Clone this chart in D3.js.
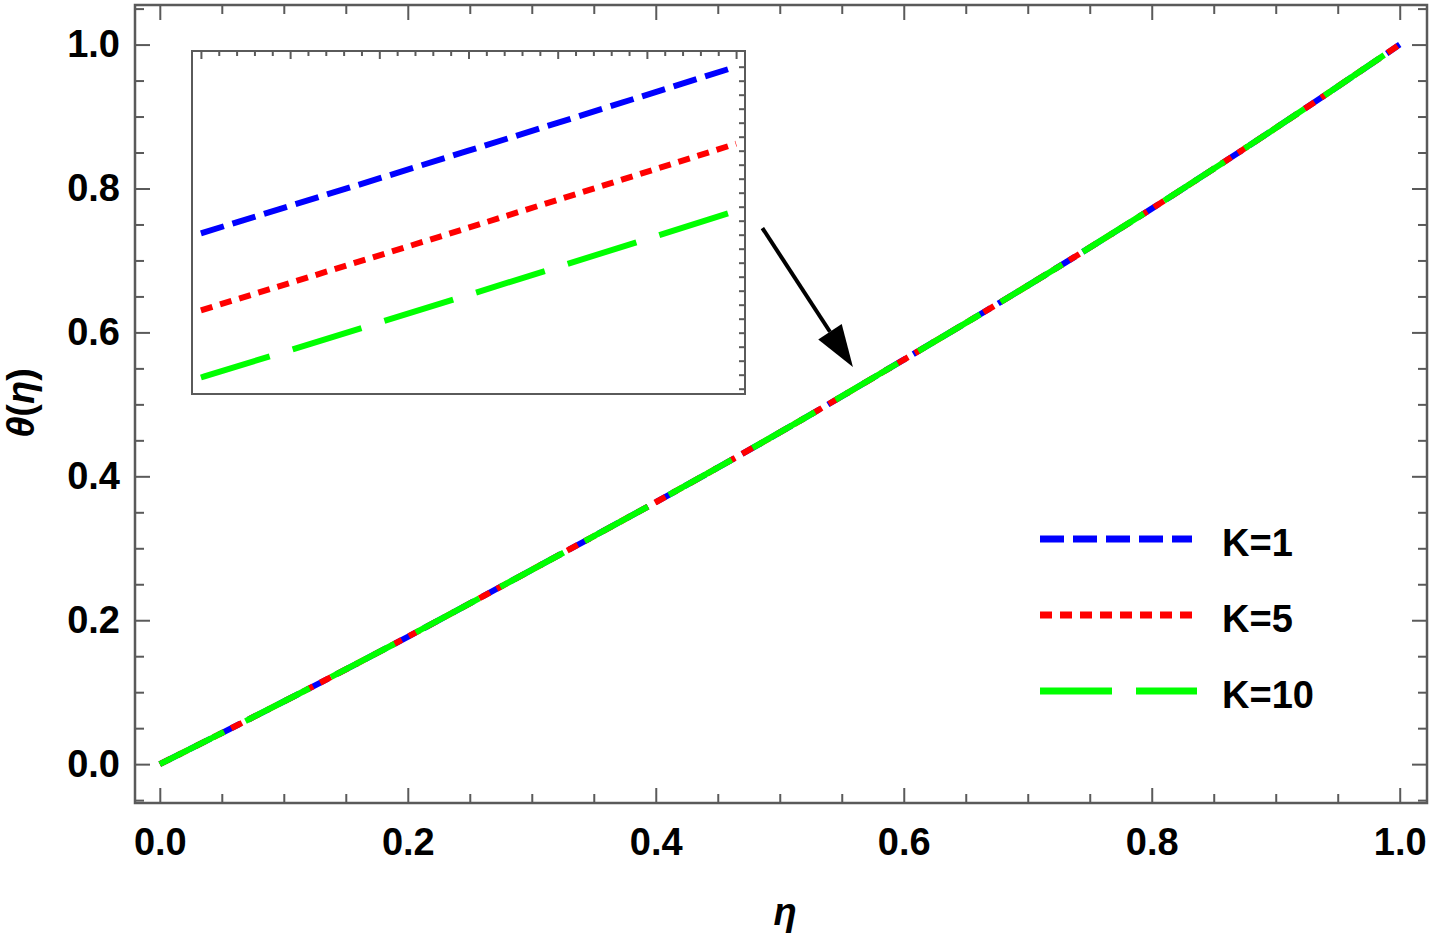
<!DOCTYPE html>
<html>
<head>
<meta charset="utf-8">
<script src="https://cdn.jsdelivr.net/npm/d3@7"></script>
<style>
  body { margin: 0; background: #fff; }
  svg { display: block; font-family: "Liberation Sans", Arial, sans-serif; }
</style>
</head>
<body>
<div id="chart"></div>
<script>
// Main curve data (eta vs theta), curves overlap for all K
const eta = [0, 0.1, 0.2, 0.3, 0.4, 0.5, 0.6, 0.7, 0.8, 0.9, 1.0];
const thetaK1 = [0, 0.087, 0.177, 0.270, 0.364, 0.461, 0.562, 0.665, 0.772, 0.884, 1.0];
const thetaK5 = [0, 0.087, 0.177, 0.270, 0.364, 0.461, 0.562, 0.665, 0.772, 0.884, 1.0];
const thetaK10 = [0, 0.087, 0.177, 0.270, 0.364, 0.461, 0.562, 0.665, 0.772, 0.884, 1.0];

// Inset (zoomed) data
const etaInset = [0.549, 0.555, 0.561];
const insetK1 = [0.5141, 0.5200, 0.5260];
const insetK5 = [0.5086, 0.5145, 0.5205];
const insetK10 = [0.5038, 0.5097, 0.5157];

const labels = ["K=1", "K=5", "K=10"];
const colors = ["#0000ff", "#ff0000", "#00ff00"];
const dashes = ["24,9", "12,8", "72,24"];

const xTicks = [0, 0.2, 0.4, 0.6, 0.8, 1.0];
const yTicks = [0, 0.2, 0.4, 0.6, 0.8, 1.0];

const W = 1433, H = 940;
const frame = {left: 135, right: 1427, top: 5, bottom: 803};
const font = "bold 38px 'Liberation Sans', Arial, sans-serif";
const frameColor = "#5a5a5a";

const svg = d3.select("#chart").append("svg")
    .attr("width", W).attr("height", H);

const x = d3.scaleLinear().domain([-0.02, 1.022]).range([frame.left, frame.right]);
const y = d3.scaleLinear().domain([-0.054, 1.055]).range([frame.bottom, frame.top]);

const minorX = d3.range(0, 1.0001, 0.05).filter(v => Math.abs(v * 5 - Math.round(v * 5)) > 1e-6);
const minorY = d3.range(-0.05, 1.0501, 0.05).filter(v => Math.abs(v * 5 - Math.round(v * 5)) > 1e-6);

function styleAxis(g) {
    g.select(".domain").remove();
    g.selectAll(".tick line").attr("stroke", frameColor).attr("stroke-width", 2);
    g.selectAll(".tick text").style("font", font).attr("fill", "#000");
}

// Bottom axis
svg.append("g").attr("transform", `translate(0,${frame.bottom})`)
    .call(d3.axisBottom(x).tickValues(xTicks).tickSizeInner(-15).tickSizeOuter(0)
        .tickPadding(25).tickFormat(d3.format(".1f")))
    .call(styleAxis);
svg.append("g").attr("transform", `translate(0,${frame.bottom})`)
    .call(d3.axisBottom(x).tickValues(minorX).tickSizeInner(-9).tickSizeOuter(0).tickFormat(""))
    .call(styleAxis);
// Top axis
svg.append("g").attr("transform", `translate(0,${frame.top})`)
    .call(d3.axisTop(x).tickValues(xTicks).tickSizeInner(-15).tickSizeOuter(0).tickFormat(""))
    .call(styleAxis);
svg.append("g").attr("transform", `translate(0,${frame.top})`)
    .call(d3.axisTop(x).tickValues(minorX).tickSizeInner(-9).tickSizeOuter(0).tickFormat(""))
    .call(styleAxis);
// Left axis
svg.append("g").attr("transform", `translate(${frame.left},0)`)
    .call(d3.axisLeft(y).tickValues(yTicks).tickSizeInner(-15).tickSizeOuter(0)
        .tickPadding(15).tickFormat(d3.format(".1f")))
    .call(styleAxis);
svg.append("g").attr("transform", `translate(${frame.left},0)`)
    .call(d3.axisLeft(y).tickValues(minorY).tickSizeInner(-9).tickSizeOuter(0).tickFormat(""))
    .call(styleAxis);
// Right axis
svg.append("g").attr("transform", `translate(${frame.right},0)`)
    .call(d3.axisRight(y).tickValues(yTicks).tickSizeInner(-15).tickSizeOuter(0).tickFormat(""))
    .call(styleAxis);
svg.append("g").attr("transform", `translate(${frame.right},0)`)
    .call(d3.axisRight(y).tickValues(minorY).tickSizeInner(-9).tickSizeOuter(0).tickFormat(""))
    .call(styleAxis);

// Frame
svg.append("rect")
    .attr("x", frame.left).attr("y", frame.top)
    .attr("width", frame.right - frame.left).attr("height", frame.bottom - frame.top)
    .attr("fill", "none").attr("stroke", frameColor).attr("stroke-width", 2.5);

// Main curves
const series = [thetaK1, thetaK5, thetaK10];
const line = d3.line().x(d => x(d[0])).y(d => y(d[1])).curve(d3.curveMonotoneX);
series.forEach((vals, i) => {
    svg.append("path")
        .datum(eta.map((e, j) => [e, vals[j]]))
        .attr("d", line)
        .attr("fill", "none")
        .attr("stroke", colors[i])
        .attr("stroke-width", 6)
        .attr("stroke-dasharray", dashes[i]);
});

// Inset
const inset = {left: 192, right: 745, top: 51, bottom: 394};
const xi = d3.scaleLinear().domain([0.5488, 0.5612]).range([inset.left, inset.right]);
const yi = d3.scaleLinear().domain([0.502621, 0.527121]).range([inset.bottom, inset.top]);

svg.append("rect").attr("x", inset.left).attr("y", inset.top)
    .attr("width", inset.right - inset.left).attr("height", inset.bottom - inset.top)
    .attr("fill", "#fff");

svg.append("clipPath").attr("id", "insetClip").append("rect")
    .attr("x", inset.left).attr("y", inset.top)
    .attr("width", inset.right - inset.left).attr("height", inset.bottom - inset.top);

const insetMajorX = d3.range(0.549, 0.5612, 0.002);
const insetMinorX = d3.range(0.549, 0.5612, 0.0004).filter(v => !insetMajorX.some(m => Math.abs(m - v) < 1e-7));
const insetTicksY = d3.range(0.503, 0.52650, 0.001);

svg.append("g").attr("transform", `translate(0,${inset.top})`)
    .call(d3.axisTop(xi).tickValues(insetMajorX).tickSizeInner(-8).tickSizeOuter(0).tickFormat(""))
    .call(styleAxis);
svg.append("g").attr("transform", `translate(0,${inset.top})`)
    .call(d3.axisTop(xi).tickValues(insetMinorX).tickSizeInner(-5).tickSizeOuter(0).tickFormat(""))
    .call(styleAxis);
svg.append("g").attr("transform", `translate(${inset.right},0)`)
    .call(d3.axisRight(yi).tickValues(insetTicksY).tickSizeInner(-6).tickSizeOuter(0).tickFormat(""))
    .call(styleAxis);

const lineInset = d3.line().x(d => xi(d[0])).y(d => yi(d[1])).curve(d3.curveMonotoneX);
const gInset = svg.append("g").attr("clip-path", "url(#insetClip)");
[insetK1, insetK5, insetK10].forEach((vals, i) => {
    gInset.append("path")
        .datum(etaInset.map((e, j) => [e, vals[j]]))
        .attr("d", lineInset)
        .attr("fill", "none")
        .attr("stroke", colors[i])
        .attr("stroke-width", 6)
        .attr("stroke-dasharray", dashes[i]);
});

svg.append("rect").attr("x", inset.left).attr("y", inset.top)
    .attr("width", inset.right - inset.left).attr("height", inset.bottom - inset.top)
    .attr("fill", "none").attr("stroke", frameColor).attr("stroke-width", 2);

// Arrow from inset to the curve
const arrowFrom = [0.486, 0.745], arrowTo = [0.559, 0.552];
const ax0 = x(arrowFrom[0]), ay0 = y(arrowFrom[1]);
const ax1 = x(arrowTo[0]), ay1 = y(arrowTo[1]);
const ang = Math.atan2(ay1 - ay0, ax1 - ax0);
const headLen = 42, headHalf = 14;
const bx = ax1 - headLen * Math.cos(ang), by = ay1 - headLen * Math.sin(ang);
svg.append("line")
    .attr("x1", ax0).attr("y1", ay0).attr("x2", bx).attr("y2", by)
    .attr("stroke", "#000").attr("stroke-width", 4);
svg.append("path")
    .attr("d", `M${ax1},${ay1} L${bx + headHalf * Math.sin(ang)},${by - headHalf * Math.cos(ang)} L${bx - headHalf * Math.sin(ang)},${by + headHalf * Math.cos(ang)} Z`)
    .attr("fill", "#000");

// Legend
const legend = svg.append("g");
labels.forEach((lab, i) => {
    const ly = 539 + i * 76;
    legend.append("line")
        .attr("x1", 1040).attr("x2", i === 2 ? 1197 : 1192)
        .attr("y1", ly).attr("y2", ly)
        .attr("stroke", colors[i]).attr("stroke-width", 7)
        .attr("stroke-dasharray", dashes[i]);
    legend.append("text")
        .attr("x", 1222).attr("y", ly + 17)
        .style("font", font)
        .text(lab);
});

// Axis titles
svg.append("text")
    .attr("x", 785).attr("y", 925)
    .attr("text-anchor", "middle")
    .style("font", "italic bold 38px 'Liberation Sans', Arial, sans-serif")
    .text("η");

const yt = svg.append("text")
    .attr("transform", "translate(34,403) rotate(-90)")
    .attr("text-anchor", "middle")
    .style("font", font);
yt.append("tspan").style("font-style", "italic").text("θ");
yt.append("tspan").text("(");
yt.append("tspan").style("font-style", "italic").text("η");
yt.append("tspan").text(")");
</script>
</body>
</html>
